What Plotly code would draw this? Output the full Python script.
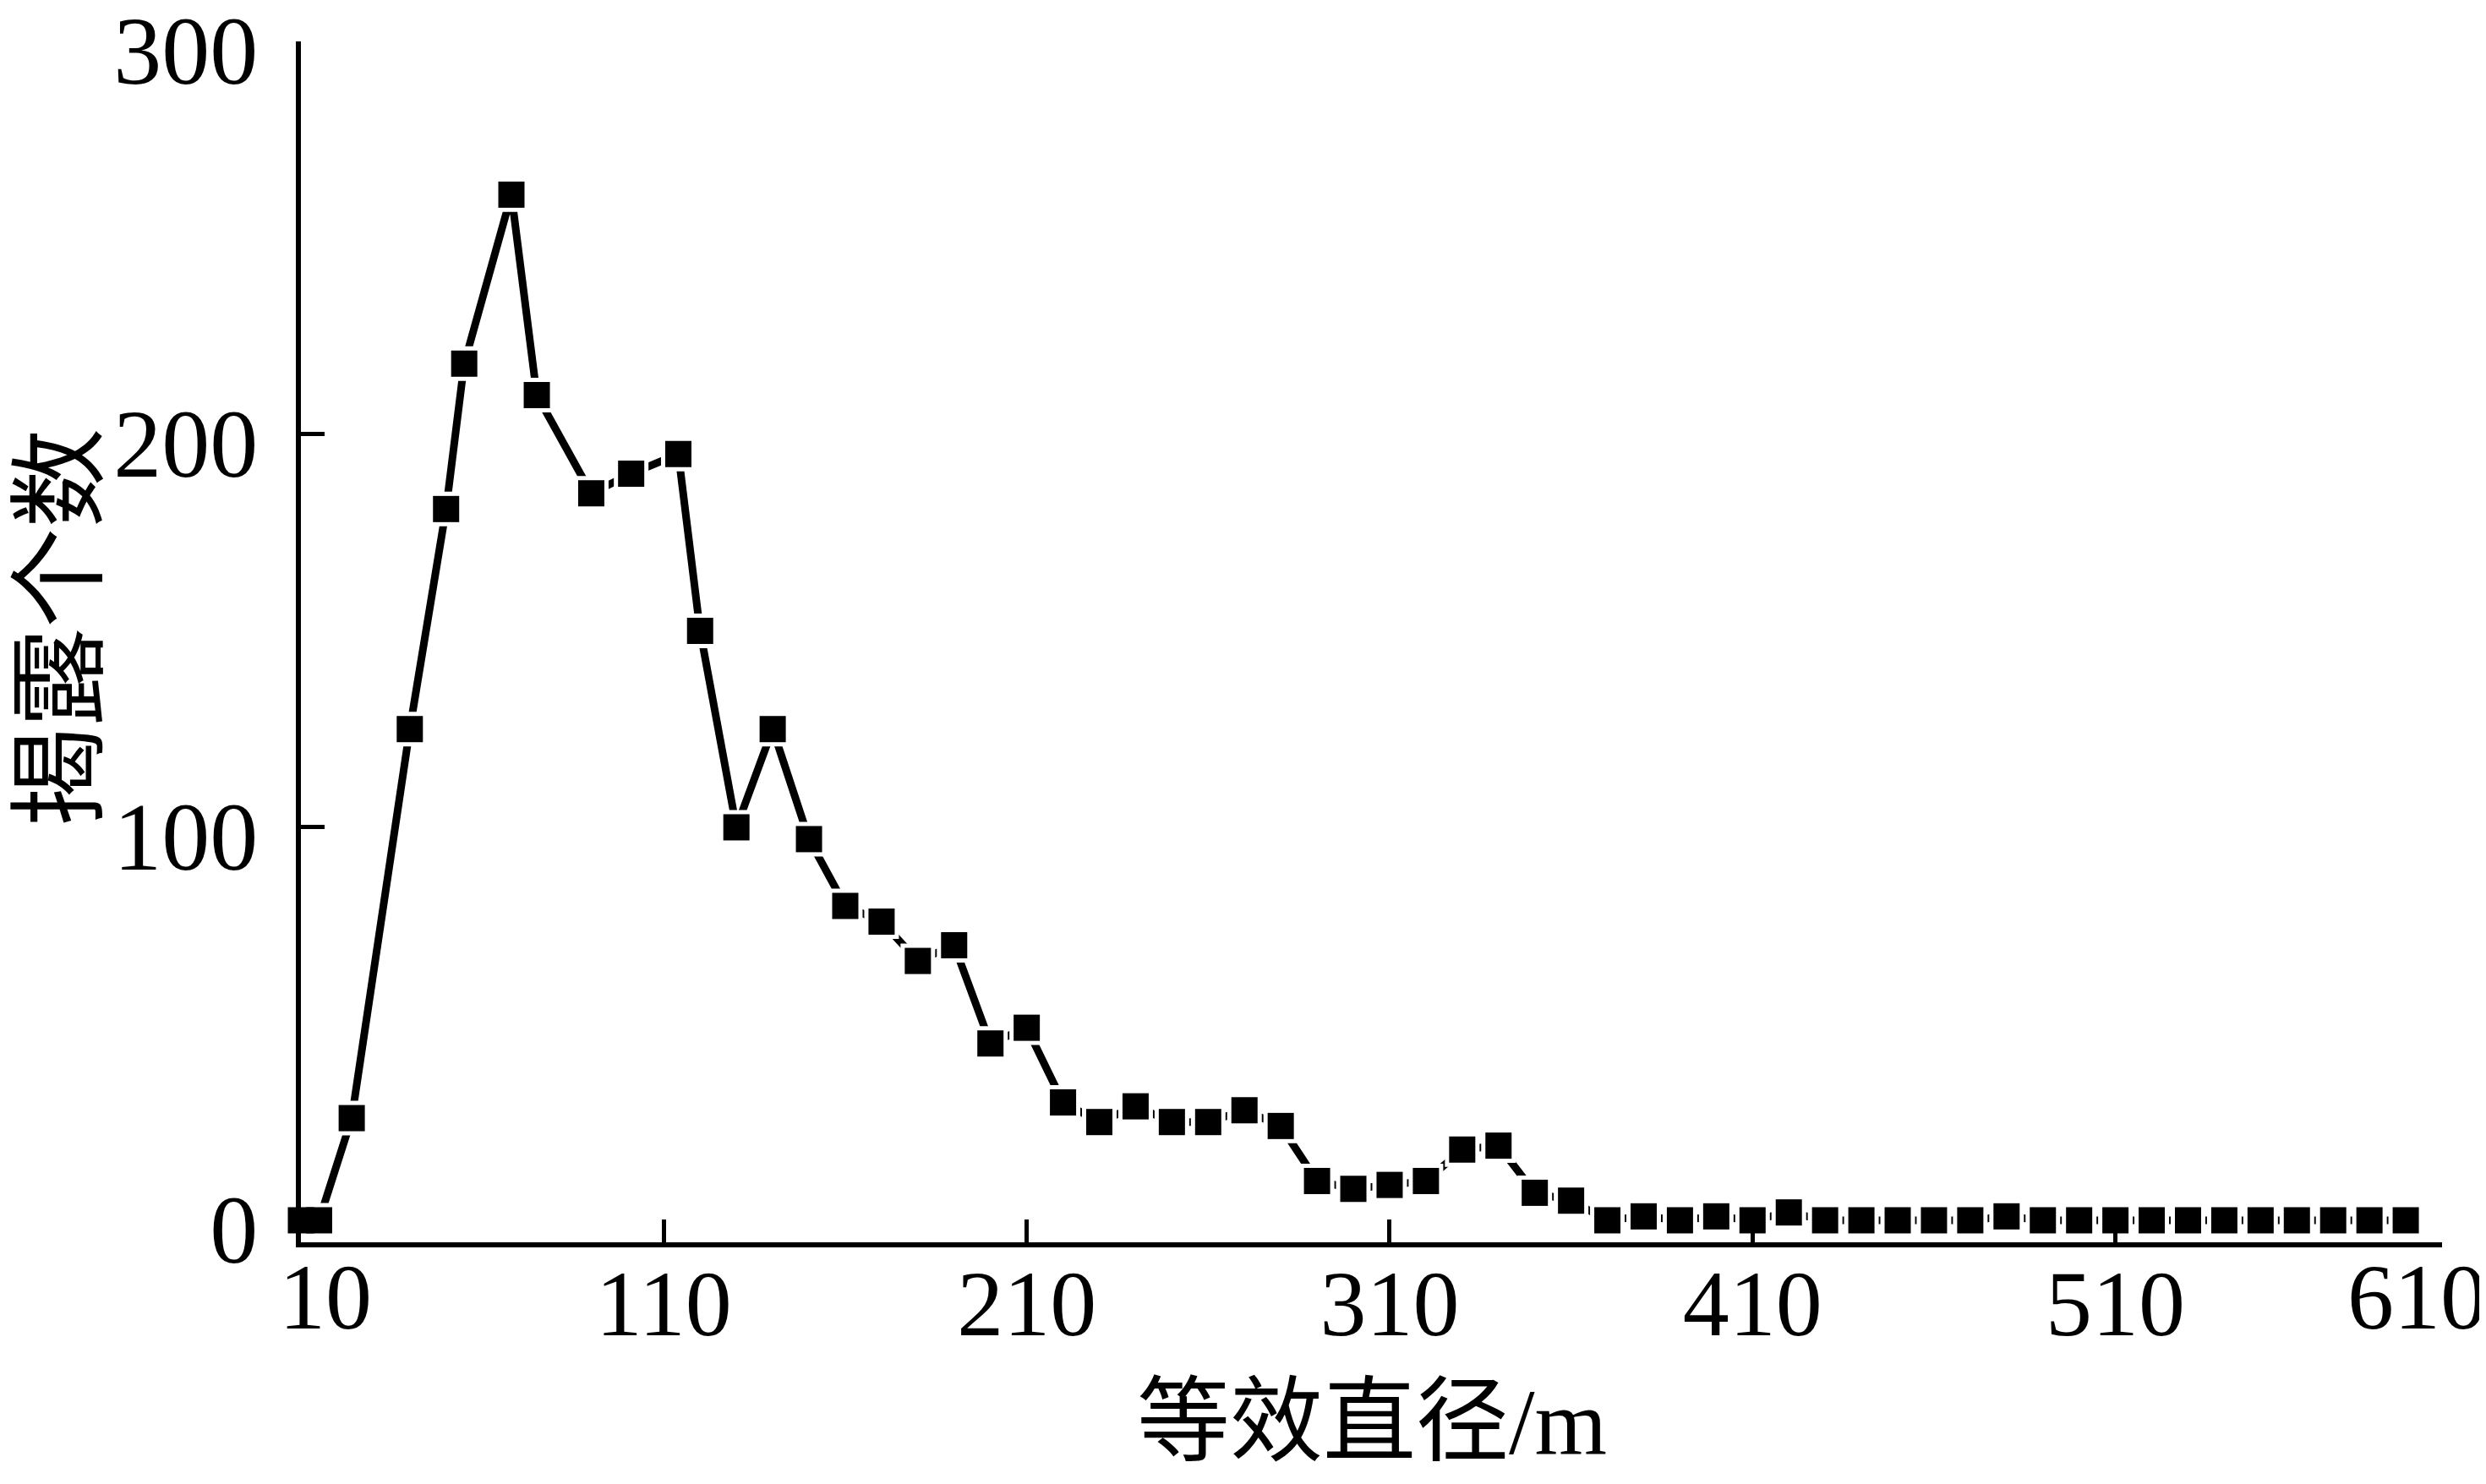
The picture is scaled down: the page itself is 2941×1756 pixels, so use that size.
import plotly.graph_objects as go

# Data
diameter = [10, 15, 24, 40, 50, 55, 68, 75, 90, 101, 114, 120,
            130, 140, 150, 160, 170, 180, 190, 200, 210, 220, 230, 240,
            250, 260, 270, 280, 290, 300, 310, 320, 330, 340, 350, 360,
            370, 380, 390, 400, 410, 420, 430, 440, 450, 460, 470, 480,
            490, 500, 510, 520, 530, 540, 550, 560, 570, 580, 590]
count = [0, 0, 26, 125, 181, 218, 261, 210, 185, 190, 195, 150,
         100, 125, 97, 80, 76, 66, 70, 45, 49, 30, 25, 29,
         25, 25, 28, 24, 10, 8, 9, 10, 18, 19, 7, 5,
         0, 1, 0, 1, 0, 2, 0, 0, 0, 0, 0, 1,
         0, 0, 0, 0, 0, 0, 0, 0, 0, 0, 0]

x_tick_vals = [10, 110, 210, 310, 410, 510, 600]
x_tick_text = ["10", "110", "210", "310", "410", "510", "610"]
y_tick_vals = [0, 100, 200, 300]
y_tick_text = ["0", "100", "200", "300"]

x_title = "等效直径/m"
y_title = "揭露个数"

SERIF = "Liberation Serif, Times New Roman, serif"
CJK = "Liberation Serif, Noto Sans CJK SC, serif"

fig = go.Figure()
# connecting line
fig.add_trace(go.Scatter(x=diameter, y=count, mode="lines",
                         line=dict(color="black", width=9),
                         hoverinfo="skip", cliponaxis=False))
# white halo squares (gap between line and markers)
fig.add_trace(go.Scatter(x=diameter, y=count, mode="markers",
                         marker=dict(symbol="square", size=41, color="white",
                                     line=dict(width=0)),
                         hoverinfo="skip", cliponaxis=False))
# black square markers
fig.add_trace(go.Scatter(x=diameter, y=count, mode="markers",
                         marker=dict(symbol="square", size=31, color="black",
                                     line=dict(width=0)),
                         cliponaxis=False))

# plotly tick labels for inner ticks; first/last are shifted inward as in the reference
inner_text = [""] + x_tick_text[1:-1] + [""]

fig.update_xaxes(range=[10, 600], showline=True, linewidth=6, linecolor="black",
                 ticks="inside", ticklen=27, tickwidth=5, tickcolor="black",
                 tickvals=x_tick_vals, ticktext=inner_text,
                 tickfont=dict(family=SERIF, size=110, color="black"),
                 ticklabelstandoff=-28, ticklabeloverflow="allow",
                 automargin=False,
                 showgrid=False, zeroline=False, mirror=False)
fig.update_yaxes(range=[-5.6, 300], showline=True, linewidth=6, linecolor="black",
                 ticks="inside", ticklen=28, tickwidth=5, tickcolor="black",
                 tickvals=y_tick_vals, ticktext=y_tick_text,
                 tickfont=dict(family=SERIF, size=114, color="black"),
                 ticklabelstandoff=22, ticklabelshift=10, ticklabeloverflow="allow",
                 automargin=False,
                 showgrid=False, zeroline=False)

annotations = [
    dict(text=x_tick_text[0], x=x_tick_vals[0], xref="x", y=0, yref="paper",
         yshift=-2, xshift=29, showarrow=False, yanchor="top", xanchor="center",
         font=dict(family=SERIF, size=110, color="black")),
    dict(text=x_tick_text[-1], x=x_tick_vals[-1], xref="x", y=0, yref="paper",
         yshift=-2, xshift=-30, showarrow=False, yanchor="top", xanchor="center",
         font=dict(family=SERIF, size=110, color="black")),
    dict(text=x_title, x=0.5, xref="paper", y=-0.15, yref="paper",
         showarrow=False, xanchor="center", yanchor="middle",
         font=dict(family=CJK, size=110, color="black")),
    dict(text=y_title, x=-0.112, xref="paper", y=0.512, yref="paper",
         showarrow=False, xanchor="center", yanchor="middle", textangle=-90,
         font=dict(family=CJK, size=118, color="black")),
]

fig.update_layout(width=2941, height=1756,
                  margin=dict(l=348, r=60, t=41, b=294),
                  plot_bgcolor="white", paper_bgcolor="white",
                  showlegend=False, annotations=annotations)

fig.write_html("out.html")
